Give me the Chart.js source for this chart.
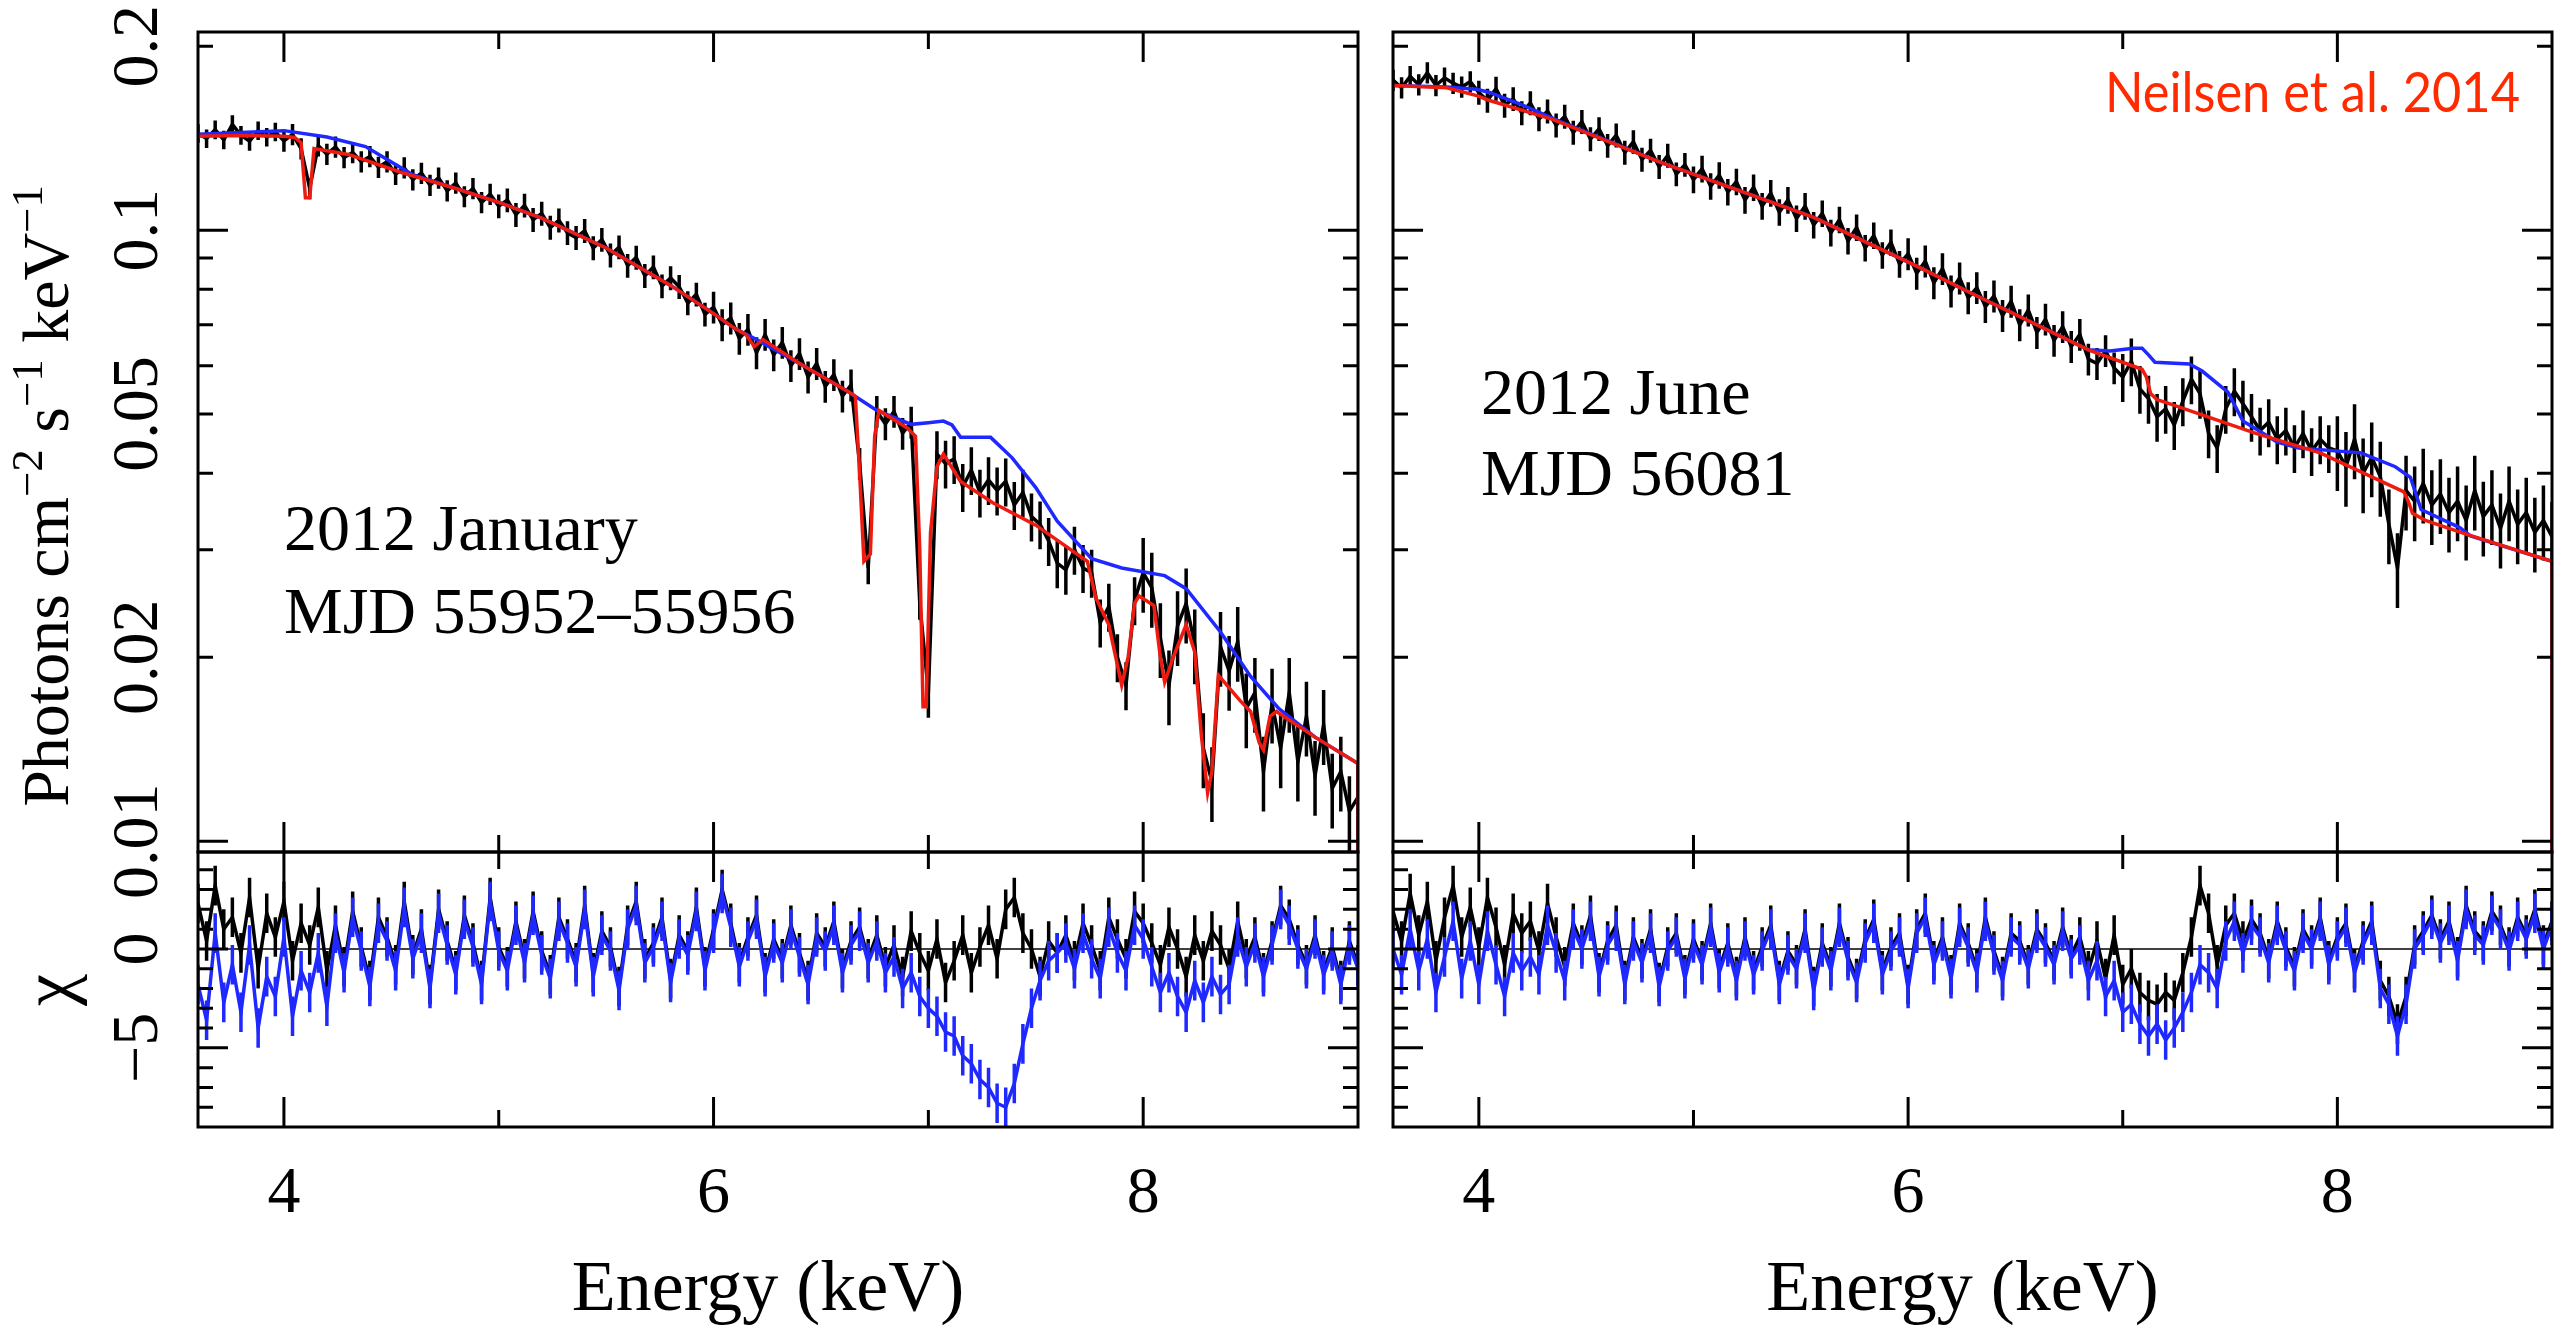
<!DOCTYPE html>
<html>
<head>
<meta charset="utf-8">
<script src="https://cdn.jsdelivr.net/npm/chart.js@4.4.1/dist/chart.umd.min.js"></script>
<style>
  html, body { margin: 0; padding: 0; background: #fff; }
  #wrap { position: relative; width: 2572px; height: 1332px; }
  #wrap canvas { position: absolute; left: 0; top: 0; }
</style>
</head>
<body>
<div id="wrap">
  <canvas id="janSpec" width="2572" height="1332"></canvas>
  <canvas id="janChi" width="2572" height="1332"></canvas>
  <canvas id="junSpec" width="2572" height="1332"></canvas>
  <canvas id="junChi" width="2572" height="1332"></canvas>
</div>
<script>
// bin centres (keV), shared by data and residuals
var energy = [
  3.60,3.64,3.68,3.72,3.76,3.80,3.84,3.88,3.92,3.96,
  4.00,4.04,4.08,4.12,4.16,4.20,4.24,4.28,4.32,4.36,4.40,4.44,4.48,4.52,4.56,4.60,4.64,4.68,4.72,4.76,4.80,4.84,4.88,4.92,4.96,
  5.00,5.04,5.08,5.12,5.16,5.20,5.24,5.28,5.32,5.36,5.40,5.44,5.48,5.52,5.56,5.60,5.64,5.68,5.72,5.76,5.80,5.84,5.88,5.92,5.96,
  6.00,6.04,6.08,6.12,6.16,6.20,6.24,6.28,6.32,6.36,6.40,6.44,6.48,6.52,6.56,6.60,6.64,6.68,6.72,6.76,6.80,6.84,6.88,6.92,6.96,
  7.00,7.04,7.08,7.12,7.16,7.20,7.24,7.28,7.32,7.36,7.40,7.44,7.48,7.52,7.56,7.60,7.64,7.68,7.72,7.76,7.80,7.84,7.88,7.92,7.96,
  8.00,8.04,8.08,8.12,8.16,8.20,8.24,8.28,8.32,8.36,8.40,8.44,8.48,8.52,8.56,8.60,8.64,8.68,8.72,8.76,8.80,8.84,8.88,8.92,8.96,
  9.00
];

// photon flux in units of 1e-3 photons cm^-2 s^-1 keV^-1
var janFlux = [
  144.0,141.2,146.0,140.5,149.0,143.0,139.8,145.5,142.0,144.8,
  140.0,143.5,136.0,117.0,137.5,133.2,136.8,131.5,134.0,129.5,132.0,126.8,129.5,123.5,126.5,121.0,124.0,118.5,121.8,116.0,119.5,113.5,117.0,111.0,114.5,
  109.5,112.0,106.0,109.8,104.0,106.5,101.0,103.8,99.0,97.2,99.8,93.5,96.5,91.0,93.8,87.5,90.2,84.2,87.0,81.0,83.5,80.8,76.0,78.5,72.8,
  74.8,70.0,71.8,66.5,68.8,63.0,67.5,62.5,65.5,60.0,62.8,57.5,60.5,55.5,58.0,53.5,55.8,41.5,28.0,50.5,48.2,50.5,46.5,48.5,24.5,
  17.5,43.0,41.5,42.2,38.0,40.5,37.2,39.0,37.5,38.8,35.5,37.2,34.0,33.0,31.0,28.5,27.8,30.0,28.0,27.5,22.8,24.2,20.0,18.0,24.8,
  27.5,26.0,21.5,18.0,22.5,24.5,21.0,14.2,12.5,20.8,19.0,21.2,16.5,17.5,13.0,16.8,14.2,17.5,13.5,16.0,12.8,15.5,12.2,13.0,11.2,
  11.8
];
var junFlux = [
  176.0,171.0,178.5,173.0,181.0,172.5,177.5,174.0,171.5,175.0,
  168.0,163.0,170.5,160.0,164.0,155.5,161.5,152.0,156.5,148.5,153.5,144.5,150.5,141.0,146.5,137.5,143.0,134.0,139.5,130.5,135.0,127.0,132.5,123.5,128.0,
  121.0,126.0,118.0,123.0,115.5,120.0,112.0,117.5,109.5,115.0,107.0,112.0,104.5,109.5,102.0,106.5,99.0,104.0,96.0,101.0,93.5,98.0,91.0,95.5,88.0,
  91.5,85.0,89.0,82.0,86.5,79.5,83.5,77.5,80.5,75.0,78.0,72.5,76.5,70.0,74.0,68.0,71.5,66.0,69.5,64.5,67.5,61.5,60.5,63.5,59.5,
  57.5,61.0,55.0,53.0,49.5,51.0,48.0,52.5,57.0,54.0,46.5,44.0,51.0,54.5,52.0,49.5,47.0,48.5,45.5,47.0,44.0,46.5,43.5,45.5,44.0,
  43.5,41.0,45.5,40.0,42.5,39.5,33.0,28.0,37.5,36.0,38.5,35.5,37.0,34.5,36.0,33.5,37.5,34.0,35.5,32.5,36.0,33.0,34.5,32.0,33.5,
  31.5
];

// fractional error of the flux bins, per energy band
var errBandStart = [3.6, 4, 5, 6, 7, 8];
var janRelErr = [0.035, 0.04, 0.045, 0.06, 0.09, 0.14];
var junRelErr = [0.04, 0.045, 0.05, 0.06, 0.09, 0.14];

// models (red = fit with absorbers, blue = absorbers removed)
var janRedE = [3.60,3.80,4.00,4.05,4.08,4.10,4.12,4.14,4.30,4.54,4.80,5.00,5.20,5.50,5.80,6.00,6.10,6.15,6.19,6.23,6.40,6.62,6.66,6.68,6.70,6.73,6.75,6.77,6.90,6.94,6.96,6.975,6.99,7.01,7.04,7.07,7.15,7.30,7.50,7.74,7.78,7.84,7.90,7.93,7.96,7.98,8.05,8.08,8.10,8.14,8.20,8.24,8.27,8.30,8.32,8.35,8.45,8.50,8.54,8.56,8.59,8.62,8.80,9.00,9.00];
var janRedFlux = [142.5,142.8,142.5,141.8,139.0,113.0,113.0,136.0,133.0,124.5,117.0,111.0,104.6,93.5,81.2,73.0,69.0,67.5,64.5,66.2,60.5,54.6,53.5,40.0,28.7,29.5,46.0,50.7,47.5,46.0,30.0,16.6,16.6,32.0,41.0,43.0,38.8,35.8,32.9,28.7,25.0,22.6,18.0,20.0,24.5,25.2,24.3,20.0,18.2,20.0,22.6,20.4,15.0,12.0,13.0,18.7,17.0,16.3,14.5,14.1,16.0,16.3,14.8,13.4,1.0];
var janBlueE = [3.60,3.80,4.00,4.20,4.38,4.60,4.80,5.00,5.20,5.50,5.80,6.00,6.10,6.20,6.40,6.62,6.76,6.92,7.00,7.07,7.11,7.15,7.29,7.39,7.50,7.60,7.76,7.90,8.10,8.20,8.36,8.50,8.63,8.80,9.00,9.00];
var janBlueFlux = [143.5,144.5,145.5,142.0,137.0,123.2,117.0,111.0,104.6,93.5,81.2,73.0,69.0,66.2,60.5,54.6,50.7,48.1,48.4,48.7,48.0,45.8,45.8,42.4,37.9,33.4,29.0,28.0,27.2,25.9,22.0,18.6,16.5,14.8,13.4,1.0];
var junRedE = [3.60,3.85,3.99,4.05,4.34,4.85,5.56,6.05,6.29,6.84,7.09,7.11,7.13,7.16,7.21,7.62,7.92,8.31,8.33,8.35,8.41,8.60,9.00,9.00];
var junRedFlux = [172.5,171.0,166.0,163.0,152.0,129.0,104.9,87.0,79.0,63.7,59.2,57.5,54.0,52.8,52.1,46.5,43.2,37.3,36.0,34.4,33.5,31.8,28.7,1.0];
var junBlueE = [3.60,3.85,3.99,4.05,4.19,4.38,4.85,5.56,6.05,6.29,6.84,6.94,7.05,7.09,7.12,7.15,7.31,7.37,7.49,7.56,7.72,7.82,8.11,8.27,8.34,8.39,8.57,8.62,9.00,9.00];
var junBlueFlux = [172.5,171.5,170.0,168.0,161.0,150.5,129.0,104.9,87.0,79.0,63.7,63.4,64.1,64.1,62.5,60.8,60.4,58.8,54.3,48.7,45.0,44.0,43.2,41.0,39.4,34.9,32.6,31.6,28.7,1.0];

// residuals (chi) against the red and the blue model
var janChiBlack = [
  2.3,0.4,3.2,1.0,1.6,-0.2,2.6,-1.0,1.8,0.6,2.4,-0.6,1.3,0.2,2.1,-1.1,
  1.2,-0.9,1.9,0.1,-1.6,1.6,0.6,-0.8,2.4,-0.3,1.0,-1.8,2.0,0.4,-1.1,1.7,0.3,-1.6,2.6,0.1,-0.9,1.4,-0.5,1.9,-0.1,
  -1.3,1.6,0.5,-0.7,2.2,-1.2,0.9,0.1,-1.9,1.2,2.4,-0.5,0.3,1.6,-1.5,0.7,-0.1,2.1,-0.9,1.0,3.0,1.3,-0.7,0.6,1.7,-1.2,0.5,-0.5,1.2,-0.2,-1.6,0.8,0.1,1.4,-1.0,
  0.4,1.1,-0.5,0.7,-0.9,0.2,-1.4,0.9,-0.2,-1.1,0.5,-1.7,-0.6,0.7,-1.2,0.1,1.2,-0.5,2.0,2.6,0.8,0.0,-1.4,0.4,-0.2,
  0.7,-0.6,1.3,0.2,-1.1,1.6,0.5,-0.5,1.9,1.3,0.3,-0.8,1.1,0.0,-1.4,0.7,-0.6,0.9,0.2,-1.0,1.4,-0.5,0.6,-1.2,0.4,2.2,1.5,0.2,-0.8,0.7,-1.1,0.1,-1.6,0.4,-0.8
];
var janChiBlue = [
  -1.8,-3.6,0.8,-2.7,-0.8,-3.2,0.2,-4.0,-1.4,-2.4,0.6,-3.4,-1.1,-2.2,-0.2,-2.9,
  0.8,-1.2,1.6,-0.1,-1.9,1.3,0.4,-1.1,2.1,-0.5,0.8,-2.0,1.8,0.2,-1.3,1.5,0.1,-1.8,2.4,-0.1,-1.1,1.2,-0.7,1.7,-0.3,
  -1.5,1.4,0.3,-0.9,2.0,-1.4,0.7,-0.1,-2.1,1.0,2.2,-0.7,0.1,1.4,-1.7,0.5,-0.3,1.9,-1.1,0.8,2.8,1.1,-0.9,0.4,1.5,-1.4,0.3,-0.7,1.0,-0.4,-1.8,0.6,-0.1,1.2,-1.2,
  0.2,0.9,-0.7,0.4,-1.2,-0.4,-2.0,-1.2,-2.4,-3.0,-3.4,-4.2,-4.4,-5.4,-5.8,-6.6,-7.0,-7.8,-8.0,-6.8,-4.8,-3.0,-1.6,-0.6,-0.2,
  0.3,-1.0,0.8,-0.5,-1.5,1.1,-0.2,-1.1,1.2,0.5,-0.9,-2.2,-1.2,-2.4,-3.2,-1.6,-2.7,-1.4,-2.3,-1.8,0.6,-0.9,0.3,-1.4,0.2,2.0,1.2,0.0,-1.0,0.5,-1.3,-0.1,-1.8,0.2,-1.0
];
var junChiBlack = [
  1.9,0.4,2.8,0.7,2.4,-0.6,1.6,3.2,0.6,2.1,0.1,2.6,1.1,-0.8,1.8,0.8,
  1.4,-0.1,2.3,0.6,-0.9,1.3,0.2,1.7,-1.2,0.4,1.2,-1.6,0.6,-0.5,1.0,-1.7,0.1,0.8,-1.3,0.5,-0.6,1.3,-1.0,0.3,-1.4,
  0.6,-1.1,0.1,1.2,-1.6,-0.1,-0.8,1.0,-1.9,0.3,-0.9,1.3,-0.4,-1.5,0.5,1.5,-1.1,0.1,0.8,-1.8,1.0,1.8,-0.6,0.6,-1.3,1.3,0.3,-1.0,1.6,-0.1,-1.4,0.8,0.4,-0.8,1.0,
  0.3,-0.6,1.1,-0.3,0.6,-1.1,0.4,-1.5,0.7,-1.8,-1.0,-2.2,-2.6,-2.8,-2.2,-2.6,-1.2,0.6,3.2,1.8,-0.8,1.2,1.8,0.4,1.5,
  0.8,-0.5,1.4,0.1,-0.9,1.0,0.2,1.6,-0.6,0.6,1.3,-1.0,0.4,1.4,-1.6,-2.4,-3.8,-2.4,0.2,0.9,1.7,0.5,1.4,-0.4,2.2,0.9,0.4,1.9,1.2,0.1,1.6,0.7,2.0,0.2,1.4
];
var junChiBlue = [
  0.0,-1.3,1.0,-1.1,0.5,-2.2,-0.4,1.4,-1.5,0.4,-1.8,0.9,-0.8,-2.4,-0.2,-1.1,
  -0.4,-1.3,1.2,-0.2,-1.6,1.0,0.0,1.4,-1.4,0.2,0.9,-1.8,0.4,-0.7,0.8,-1.9,-0.1,0.6,-1.5,0.3,-0.8,1.1,-1.2,0.1,-1.6,
  0.4,-1.3,-0.1,1.0,-1.8,-0.3,-1.0,0.8,-2.1,0.1,-1.1,1.1,-0.6,-1.7,0.3,1.3,-1.3,-0.1,0.6,-2.0,0.8,1.6,-0.8,0.4,-1.5,1.1,0.1,-1.2,1.4,-0.3,-1.6,0.6,0.2,-1.0,0.8,
  0.1,-0.8,0.9,-0.5,0.2,-1.6,-0.6,-2.4,-1.6,-3.2,-2.8,-3.8,-4.4,-3.8,-4.6,-4.0,-3.2,-2.2,-0.8,-1.2,-2.0,0.4,1.4,-0.2,1.2,
  0.6,-0.7,1.2,-0.1,-1.1,0.8,0.0,1.4,-0.8,0.4,1.1,-1.2,0.2,1.2,-2.0,-2.8,-4.4,-2.8,0.0,0.7,1.5,0.3,1.2,-0.6,2.0,0.7,0.2,1.7,1.0,-0.1,1.4,0.5,1.8,0.0,1.2
];
var chiErr = 1;

// axis ticks
var energyTicks = [4, 6, 8];
var energyMinor = [5, 7];
var fluxMajor = [0.01, 0.1];
var fluxMinor = [0.02, 0.03, 0.04, 0.05, 0.06, 0.07, 0.08, 0.09, 0.2];
var fluxLabels = ['0.2', '0.1', '0.05', '0.02', '0.01'];
var chiMajor = [0, -5];
var chiMinor = [4, 3, 2, 1, -1, -2, -3, -4, -6, -7, -8];
var chiLabels = ['0', '\u22125'];

var SERIF = '"Liberation Serif", "Times New Roman", serif';
var RED = '#ee1c10';
var BLUE = '#1e28ff';

function pairs(xs, ys, scale) {
  return xs.map(function (x, i) { return { x: x, y: ys[i] == null ? null : ys[i] * scale }; });
}

function relErrAt(e, rel) {
  var k = 0;
  for (var j = 0; j < errBandStart.length; j++) if (e >= errBandStart[j]) k = j;
  return rel[k];
}

function dataSet(ys, scale, color, errs, order) {
  return {
    data: pairs(energy, ys, scale), borderColor: color, borderWidth: 3.5,
    pointRadius: 0, fill: false, tension: 0, errs: errs, order: order
  };
}

function modelSet(xs, ys, color, order) {
  return {
    data: pairs(xs, ys, 0.001), borderColor: color, borderWidth: 3.5,
    pointRadius: 0, fill: false, tension: 0, order: order
  };
}

// per-canvas decorations: ticks, labels, texts
var deco = {};

function drawRotated(ctx, text, x, y, font) {
  ctx.save();
  ctx.translate(x, y);
  ctx.rotate(-Math.PI / 2);
  ctx.font = font;
  ctx.textAlign = 'center';
  ctx.textBaseline = 'alphabetic';
  ctx.fillText(text, 0, 0);
  ctx.restore();
}

function drawRichRotated(ctx, parts, x, y, size) {
  ctx.save();
  ctx.translate(x, y);
  ctx.rotate(-Math.PI / 2);
  ctx.textBaseline = 'alphabetic';
  ctx.textAlign = 'left';
  var total = 0;
  parts.forEach(function (p) {
    ctx.font = (p.sup ? size * 0.68 : size) + 'px ' + SERIF;
    p.w = ctx.measureText(p.t).width;
    total += p.w;
  });
  var cx = -total / 2;
  parts.forEach(function (p) {
    ctx.font = (p.sup ? size * 0.68 : size) + 'px ' + SERIF;
    ctx.fillText(p.t, cx, p.sup ? -size * 0.4 : 0);
    cx += p.w;
  });
  ctx.restore();
}

var framePlugin = {
  id: 'frame',
  afterDatasetDraw: function (chart, args) {
    var ds = chart.data.datasets[args.index];
    if (!ds.errs) return;
    var ctx = chart.ctx, a = chart.chartArea;
    var xs = chart.scales.x, ys = chart.scales.y;
    ctx.save();
    ctx.beginPath();
    ctx.rect(a.left, a.top, a.right - a.left, a.bottom - a.top);
    ctx.clip();
    ctx.strokeStyle = ds.borderColor;
    ctx.lineWidth = ds.borderWidth;
    ctx.beginPath();
    ds.data.forEach(function (p, i) {
      if (p.y == null) return;
      var px = xs.getPixelForValue(p.x);
      ctx.moveTo(px, ys.getPixelForValue(p.y - ds.errs[i]));
      ctx.lineTo(px, ys.getPixelForValue(p.y + ds.errs[i]));
    });
    ctx.stroke();
    ctx.restore();
  },
  afterDraw: function (chart) {
    var d = deco[chart.canvas.id];
    var ctx = chart.ctx, a = chart.chartArea;
    var xs = chart.scales.x, ys = chart.scales.y;
    ctx.save();
    ctx.strokeStyle = '#000';
    ctx.lineWidth = 3;
    ctx.beginPath();
    function xTick(v, len) {
      var p = xs.getPixelForValue(v);
      ctx.moveTo(p, a.top); ctx.lineTo(p, a.top + len);
      ctx.moveTo(p, a.bottom); ctx.lineTo(p, a.bottom - len);
    }
    function yTick(v, len) {
      var p = ys.getPixelForValue(v);
      ctx.moveTo(a.left, p); ctx.lineTo(a.left + len, p);
      ctx.moveTo(a.right, p); ctx.lineTo(a.right - len, p);
    }
    energyTicks.forEach(function (v) { xTick(v, 30); });
    energyMinor.forEach(function (v) { xTick(v, 17); });
    d.yMajor.forEach(function (v) { yTick(v, 30); });
    d.yMinor.forEach(function (v) { yTick(v, 15); });
    ctx.stroke();
    ctx.strokeRect(a.left, a.top, a.right - a.left, a.bottom - a.top);

    ctx.fillStyle = '#000';
    if (d.yLabels) {
      d.yLabels.forEach(function (t) {
        var v = parseFloat(t.replace('\u2212', '-'));
        drawRotated(ctx, t, 157, ys.getPixelForValue(v), '66px ' + SERIF);
      });
    }
    if (d.xLabels) {
      ctx.font = '66px ' + SERIF;
      ctx.textAlign = 'center';
      ctx.textBaseline = 'alphabetic';
      energyTicks.forEach(function (v) {
        ctx.fillText(String(v), xs.getPixelForValue(v), 1212);
      });
      ctx.font = '72px ' + SERIF;
      ctx.fillText('Energy (keV)', (a.left + a.right) / 2 - 10, 1310);
    }
    (d.texts || []).forEach(function (t) {
      ctx.font = t.font;
      ctx.fillStyle = t.color || '#000';
      ctx.textAlign = t.align || 'left';
      ctx.textBaseline = 'alphabetic';
      if (t.fitWidth) {
        var w = ctx.measureText(t.text).width;
        var s = Math.min(1, t.fitWidth / w);
        ctx.save();
        ctx.translate(t.x, t.y);
        ctx.scale(s, 1);
        ctx.fillText(t.text, 0, 0);
        ctx.restore();
      } else {
        ctx.fillText(t.text, t.x, t.y);
      }
    });
    if (d.yTitle) {
      ctx.fillStyle = '#000';
      drawRichRotated(ctx, [
        { t: 'Photons cm' }, { t: '\u22122', sup: true }, { t: ' s' }, { t: '\u22121', sup: true },
        { t: ' keV' }, { t: '\u22121', sup: true }
      ], 68, 496, 66);
    }
    if (d.chiTitle) {
      ctx.fillStyle = '#000';
      drawRotated(ctx, '\u03c7', 72, 990, '72px ' + SERIF);
    }
    ctx.restore();
  }
};

function panel(id, pad, yOpts, datasets) {
  return new Chart(document.getElementById(id), {
    type: 'line',
    data: { datasets: datasets },
    options: {
      responsive: false,
      animation: false,
      devicePixelRatio: 1,
      layout: { padding: pad },
      plugins: { legend: { display: false }, tooltip: { enabled: false } },
      scales: {
        x: { type: 'linear', min: 3.6, max: 9.0, bounds: 'data', display: false },
        y: Object.assign({ display: false, bounds: 'data' }, yOpts)
      }
    },
    plugins: [framePlugin]
  });
}

var fluxAxis = { type: 'logarithmic', min: 0.0096, max: 0.211 };
var chiAxis = { type: 'linear', min: -9.0, max: 4.9 };

function fluxErrs(flux, rel) {
  return flux.map(function (v, i) { return v * 0.001 * relErrAt(energy[i], rel); });
}
var chiErrs = energy.map(function () { return chiErr; });

deco.janSpec = {
  yMajor: fluxMajor, yMinor: fluxMinor, yLabels: fluxLabels, yTitle: true,
  texts: [
    { text: '2012 January', x: 284, y: 550, font: '66px ' + SERIF },
    { text: 'MJD 55952\u201355956', x: 284, y: 633, font: '66px ' + SERIF }
  ]
};
deco.janChi = { yMajor: chiMajor, yMinor: chiMinor, yLabels: chiLabels, xLabels: true, chiTitle: true };
deco.junSpec = {
  yMajor: fluxMajor, yMinor: fluxMinor,
  texts: [
    { text: '2012 June', x: 1481, y: 414, font: '66px ' + SERIF },
    { text: 'MJD 56081', x: 1481, y: 495, font: '66px ' + SERIF },
    { text: 'Neilsen et al. 2014', x: 2520, y: 112, font: '57px "Gill Sans", Lato, sans-serif',
      color: '#ff2a00', align: 'right', fitWidth: 415 }
  ]
};
deco.junChi = { yMajor: chiMajor, yMinor: chiMinor, xLabels: true };

panel('janSpec', { left: 198, top: 32, right: 1214, bottom: 480 }, fluxAxis, [
  modelSet(janRedE, janRedFlux, RED, 0),
  modelSet(janBlueE, janBlueFlux, BLUE, 1),
  dataSet(janFlux, 0.001, '#000', fluxErrs(janFlux, janRelErr), 2)
]);
panel('janChi', { left: 198, top: 852, right: 1214, bottom: 205 }, chiAxis, [
  dataSet(janChiBlue, 1, BLUE, chiErrs, 0),
  { data: [{ x: 3.6, y: 0 }, { x: 9.0, y: 0 }], borderColor: '#000', borderWidth: 1.5, pointRadius: 0, order: 1 },
  dataSet(janChiBlack, 1, '#000', chiErrs, 2)
]);
panel('junSpec', { left: 1393, top: 32, right: 20, bottom: 480 }, fluxAxis, [
  modelSet(junRedE, junRedFlux, RED, 0),
  modelSet(junBlueE, junBlueFlux, BLUE, 1),
  dataSet(junFlux, 0.001, '#000', fluxErrs(junFlux, junRelErr), 2)
]);
panel('junChi', { left: 1393, top: 852, right: 20, bottom: 205 }, chiAxis, [
  dataSet(junChiBlue, 1, BLUE, chiErrs, 0),
  { data: [{ x: 3.6, y: 0 }, { x: 9.0, y: 0 }], borderColor: '#000', borderWidth: 1.5, pointRadius: 0, order: 1 },
  dataSet(junChiBlack, 1, '#000', chiErrs, 2)
]);
</script>
</body>
</html>
